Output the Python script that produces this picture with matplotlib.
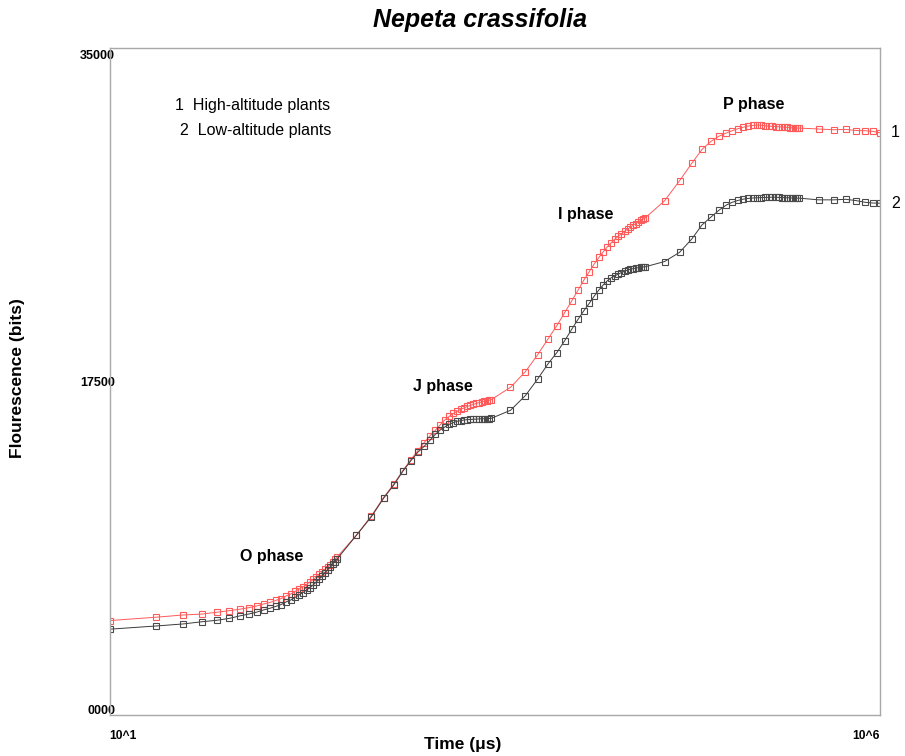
import matplotlib
matplotlib.use("Agg")
import matplotlib.pyplot as plt

plt.rcParams['font.family'] = ['Liberation Sans', 'DejaVu Sans']

time_us = [10, 20, 30, 40, 50, 60, 70, 80, 90, 100,
           110, 120, 130, 140, 150, 160, 170, 180, 190, 200,
           210, 220, 230, 240, 250, 260, 270, 280, 290, 300,
           400, 500, 600, 700, 800, 900, 1000, 1100, 1200, 1300,
           1400, 1500, 1600, 1700, 1800, 1900, 2000, 2100, 2200, 2300,
           2400, 2500, 2600, 2700, 2800, 2900, 3000,
           4000, 5000, 6000, 7000, 8000, 9000, 10000, 11000, 12000, 13000,
           14000, 15000, 16000, 17000, 18000, 19000, 20000, 21000, 22000, 23000,
           24000, 25000, 26000, 27000, 28000, 29000, 30000,
           40000, 50000, 60000, 70000, 80000, 90000, 100000, 110000, 120000, 130000,
           140000, 150000, 160000, 170000, 180000, 190000, 200000, 210000, 220000, 230000,
           240000, 250000, 260000, 270000, 280000, 290000, 300000,
           400000, 500000, 600000, 700000, 800000, 900000, 1000000]

high_altitude = [4730, 4910, 5030, 5080, 5180, 5260, 5340, 5420, 5510, 5620,
                 5700, 5810, 5910, 6050, 6150, 6290, 6420, 6530, 6660, 6800,
                 6930, 7060, 7200, 7330, 7470, 7600, 7730, 7870, 8000, 8130,
                 9300, 10330, 11310, 12040, 12750, 13330, 13810, 14250, 14610, 14910,
                 15200, 15470, 15650, 15810, 15920, 16030, 16110, 16190, 16240, 16300,
                 16350, 16390, 16430, 16470, 16490, 16520, 16550,
                 17210, 18050, 18950, 19790, 20510, 21210, 21840, 22420, 22960, 23400,
                 23820, 24160, 24460, 24730, 24940, 25130, 25290, 25420, 25560, 25670,
                 25780, 25880, 25970, 26060, 26140, 26210, 26280,
                 27190, 28260, 29190, 29940, 30370, 30640, 30810, 30940, 31050, 31130,
                 31190, 31220, 31240, 31230, 31200, 31180, 31170, 31160, 31150, 31140,
                 31130, 31120, 31110, 31090, 31090, 31080, 31080,
                 31030, 30990, 31010, 30950, 30940, 30900, 30830]

low_altitude = [4270, 4440, 4550, 4670, 4750, 4850, 4980, 5080, 5180, 5300,
                5390, 5490, 5590, 5730, 5830, 5970, 6100, 6230, 6370, 6500,
                6640, 6800, 6960, 7120, 7280, 7440, 7600, 7760, 7890, 8030,
                9290, 10280, 11270, 11990, 12710, 13270, 13730, 14050, 14370, 14690,
                14930, 15090, 15230, 15320, 15390, 15430, 15460, 15480, 15490, 15500,
                15510, 15520, 15530, 15530, 15540, 15540, 15550,
                15980, 16770, 17650, 18460, 19070, 19710, 20320, 20860, 21320, 21710,
                22100, 22420, 22690, 22910, 23070, 23170, 23270, 23350, 23420, 23480,
                23530, 23560, 23590, 23610, 23630, 23650, 23660,
                23940, 24430, 25140, 25900, 26320, 26680, 26950, 27110, 27210, 27280,
                27320, 27340, 27350, 27360, 27370, 27380, 27380, 27380, 27370, 27360,
                27360, 27350, 27350, 27340, 27340, 27330, 27330,
                27240, 27240, 27270, 27200, 27110, 27070, 27060]

y_ticks = [0, 17500, 35000]
y_tick_labels = ['0000', '17500', '35000']
x_ticks = [10, 1000000]
x_tick_labels = ['10^1', '10^6']

phase_labels = ['O phase', 'J phase', 'I phase', 'P phase']
phase_pos = [(113, 8135), (1460, 17230), (12360, 26440), (152000, 32330)]

fig = plt.figure(figsize=(9.05, 7.56), dpi=100)
ax = fig.add_axes([109.5 / 905, 1 - 715 / 756, (880 - 109.5) / 905, (715 - 47.5) / 756])

ax.plot(time_us, high_altitude, color='#ff5a5a', lw=0.7, marker='s', ms=3.8,
        mfc='none', mec='#ff5a5a', mew=0.8)
ax.plot(time_us, low_altitude, color='#3a3a3a', lw=0.7, marker='s', ms=3.8,
        mfc='none', mec='#4a4a4a', mew=0.8)

ax.set_xscale('log')
ax.set_xlim(10, 1000000)
ax.set_ylim(-321, 35391)

ax.set_yticks(y_ticks)
ax.set_yticklabels(y_tick_labels, fontsize=9, fontweight='bold')
ax.set_xticks(x_ticks)
ax.set_xticklabels(x_tick_labels, fontsize=8.7, fontweight='bold')
ax.xaxis.set_minor_locator(matplotlib.ticker.NullLocator())
ax.tick_params(axis='y', length=0, pad=-4)
ax.tick_params(axis='x', length=0, pad=11)
xl = ax.get_xticklabels()
xl[0].set_horizontalalignment('left')
xl[1].set_horizontalalignment('right')

for s in ax.spines.values():
    s.set_color('#a8a8a8')
    s.set_linewidth(1.0)

for lab, (px, py) in zip(phase_labels, phase_pos):
    ax.text(px, py, lab, fontsize=11.5, fontweight='bold', ha='center', va='center')

ax.text(0.085, 0.9135, '1  High-altitude plants', transform=ax.transAxes,
        fontsize=11.5, ha='left', va='center')
ax.text(0.0915, 0.876, '2  Low-altitude plants', transform=ax.transAxes,
        fontsize=11.5, ha='left', va='center')

ax.text(1.014, high_altitude[-1], '1', transform=ax.get_yaxis_transform(),
        fontsize=11.5, ha='left', va='center')
ax.text(1.014, low_altitude[-1], '2', transform=ax.get_yaxis_transform(),
        fontsize=11.5, ha='left', va='center')

fig.text(479.5 / 905, 1 - 20 / 756, 'Nepeta crassifolia', fontsize=18,
         fontweight='bold', fontstyle='italic', ha='center', va='center')
fig.text(18 / 905, 1 - 378 / 756, 'Flourescence (bits)', fontsize=12.5,
         fontweight='bold', rotation=90, ha='center', va='center')
fig.text(463 / 905, 1 - 744 / 756, 'Time (μs)', fontsize=12.5,
         fontweight='bold', ha='center', va='center')

fig.savefig('out.png', dpi=100)
